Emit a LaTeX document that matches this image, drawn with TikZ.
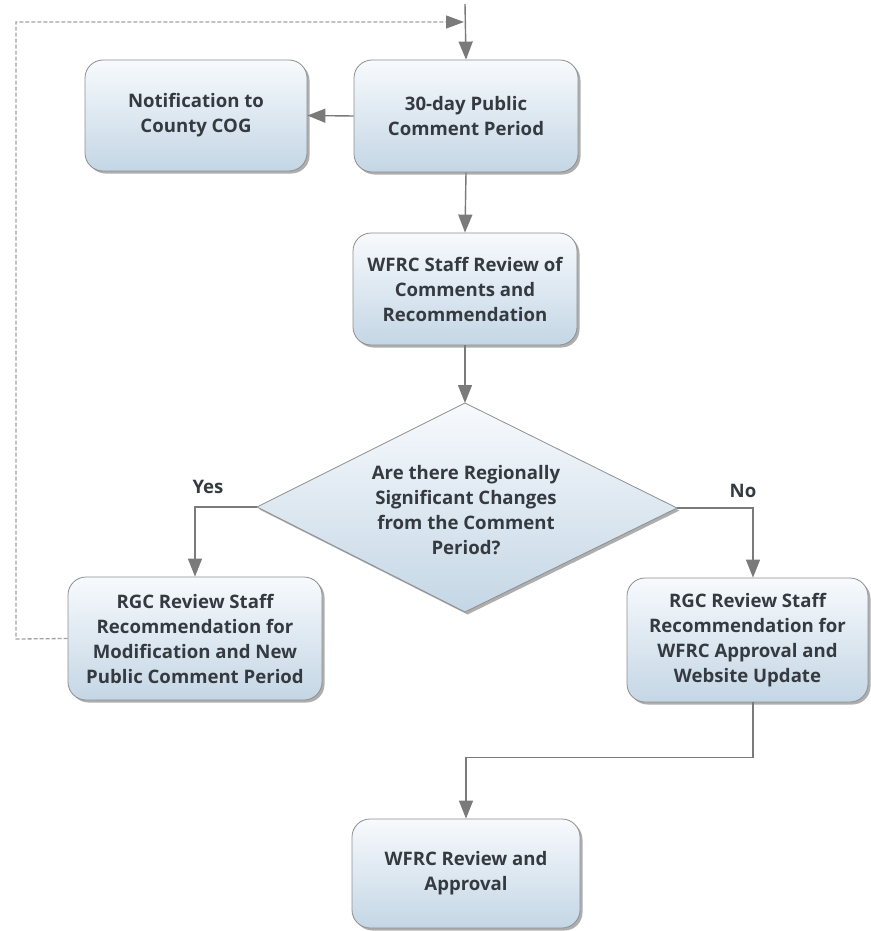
\documentclass[tikz,border=0pt]{standalone}
\usepackage{fontspec}
\setmainfont{Open Sans}
\usetikzlibrary{arrows.meta,shadows,calc}

\definecolor{txt}{HTML}{353A40}
\definecolor{edge}{HTML}{8E8E8E}
\definecolor{lineg}{HTML}{7A7A7A}
\definecolor{dashg}{HTML}{A2A2A2}
\definecolor{boxtop}{HTML}{F7FAFD}
\definecolor{boxbot}{HTML}{C4D6E5}

\begin{document}
\begin{tikzpicture}[x=1pt,y=-1pt,
  lbl/.style={text=txt, font=\bfseries\fontsize{18.6}{25}\selectfont},
  softshadow/.style={drop shadow={shadow xshift=2.5pt, shadow yshift=-2.5pt, fill=black!70, opacity=0.45}},
  proc/.style={rectangle, rounded corners=18pt, draw=edge, line width=0.8pt,
    top color=boxtop, bottom color=boxbot, softshadow,
    align=center, inner sep=0pt, lbl},
  flow/.style={draw=lineg, line width=1.4pt, -{Triangle[length=18pt,width=14pt]}},
  loopback/.style={draw=dashg, line width=1.3pt, dash pattern=on 4pt off 2pt,
    -{Triangle[length=18pt,width=13pt,color=lineg]}}
]
\useasboundingbox (0,0) rectangle (870,931);

% process steps
\node[proc, minimum width=222pt, minimum height=111pt] (notif) at (196,115.5)
  {Notification to\\County COG};
\node[proc, minimum width=224pt, minimum height=112pt] (pub) at (466,116)
  {30-day Public\\Comment Period};
\node[proc, minimum width=224pt, minimum height=112pt] (staff) at (465,289)
  {WFRC Staff Review of\\Comments and\\Recommendation};
\node[proc, minimum width=254pt, minimum height=123pt] (rgcL) at (195,638.5)
  {RGC Review Staff\\Recommendation for\\Modification and New\\Public Comment Period};
\node[proc, minimum width=241pt, minimum height=124pt] (rgcR) at (747.5,640)
  {RGC Review Staff\\Recommendation for\\WFRC Approval and\\Website Update};
\node[proc, minimum width=228pt, minimum height=109pt] (final) at (466,873.5)
  {WFRC Review and\\Approval};

% decision diamond
\coordinate (dtop) at (465,403);
\coordinate (dright) at (677,508);
\coordinate (dbot) at (465,612);
\coordinate (dleft) at (257,507);
\path[draw=edge, line width=0.8pt, top color=boxtop, bottom color=boxbot, softshadow]
  (dtop) -- (dright) -- (dbot) -- (dleft) -- cycle;
\node[lbl, align=center] (dq) at (466,510)
  {Are there Regionally\\Significant Changes\\from the Comment\\Period?};

% branch labels
\node[lbl] (yes) at (208,487) {Yes};
\node[lbl] (no) at (743,491) {No};

% helper points
\coordinate (entry) at (465,4);
\coordinate (joint) at (464,22);
\coordinate (loopc) at (16,639);
\coordinate (noin) at ($(rgcR.north)+(5.5,0)$);
\coordinate (noout) at ($(rgcR.south)+(5.5,0)$);
\coordinate (merge) at ($(final.north)+(0,-61)$);

% connectors
\draw[flow] (entry) -- (pub.north);
\draw[flow] (pub.west) -- (notif.east);
\draw[flow] (pub.south) -- (staff.north);
\draw[flow] (staff.south) -- (dtop);
\draw[flow] (dleft) -| (rgcL.north);
\draw[flow] (dright) -| (noin);
\draw[flow] (noout) |- (merge) -- (final.north);
\draw[loopback] (rgcL.west) -- (loopc) |- (joint);
\end{tikzpicture}
\end{document}
